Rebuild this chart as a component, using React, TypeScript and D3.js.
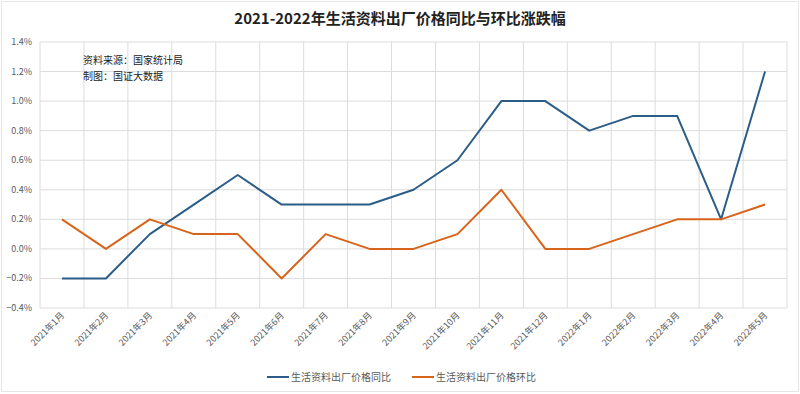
import React from "react";
import * as d3 from "d3";

const categories = [
  "2021年1月", "2021年2月", "2021年3月", "2021年4月", "2021年5月", "2021年6月",
  "2021年7月", "2021年8月", "2021年9月", "2021年10月", "2021年11月", "2021年12月",
  "2022年1月", "2022年2月", "2022年3月", "2022年4月", "2022年5月",
];
const yoyValues = [-0.2, -0.2, 0.1, 0.3, 0.5, 0.3, 0.3, 0.3, 0.4, 0.6, 1.0, 1.0, 0.8, 0.9, 0.9, 0.2, 1.2];
const momValues = [0.2, 0.0, 0.2, 0.1, 0.1, -0.2, 0.1, 0.0, 0.0, 0.1, 0.4, 0.0, 0.0, 0.1, 0.2, 0.2, 0.3];
const yTicks = [-0.4, -0.2, 0, 0.2, 0.4, 0.6, 0.8, 1.0, 1.2, 1.4];
const seriesNames = ["生活资料出厂价格同比", "生活资料出厂价格环比"];
const title = "2021-2022年生活资料出厂价格同比与环比涨跌幅";
const notes = ["资料来源：国家统计局", "制图：国证大数据"];

const W = 800, H = 394;
const left = 40, right = 787, top = 42, bottom = 308;
const BLUE = "#2c5d88";
const ORANGE = "#d8641c";
const FONT = "'Noto Sans CJK SC', 'Noto Sans', sans-serif";

export default function App() {
  const x = d3.scaleBand<string>().domain(categories).range([left, right]).padding(0);
  const y = d3.scaleLinear().domain([-0.4, 1.4]).range([bottom, top]);
  const cx = (c: string) => (x(c) as number) + x.bandwidth() / 2;
  const line = d3.line<number>()
    .x((_, i) => cx(categories[i]))
    .y((d) => y(d));
  const boundaries = d3.range(categories.length + 1).map((i) => left + i * x.bandwidth());

  return (
    <div style={{ position: "absolute", left: 0, top: 0 }}>
      <svg width={W} height={H} style={{ display: "block", fontFamily: FONT }}>
        <rect x={0} y={0} width={W} height={H} fill="#ffffff" />
        <rect x={1.5} y={1.5} width={W - 3} height={H - 4} fill="none" stroke="#e6e6e6" />
        <text x={W / 2} y={24} textAnchor="middle" fontSize={15} fontWeight="bold" fill="#222">
          {title}
        </text>
        {yTicks.map((t) => (
          <g key={t}>
            <line x1={left} x2={right} y1={y(t)} y2={y(t)} stroke="#dcdcdc" strokeWidth={1} />
            <text x={left - 8} y={y(t) + 3} textAnchor="end" fontSize={9} fill="#595959">
              {d3.format(".1f")(t) + "%"}
            </text>
          </g>
        ))}
        {boundaries.map((bx, i) => (
          <line key={i} x1={bx} x2={bx} y1={top} y2={bottom} stroke="#dcdcdc" strokeWidth={1} />
        ))}
        {categories.map((c) => (
          <text
            key={c}
            transform={`translate(${cx(c) + 3},${bottom + 8}) rotate(-45)`}
            textAnchor="end"
            fontSize={9}
            fill="#595959"
          >
            {c}
          </text>
        ))}
        <text x={83} y={64} fontSize={10} fill="#222">{notes[0]}</text>
        <text x={83} y={80} fontSize={10} fill="#222">{notes[1]}</text>
        <path d={line(yoyValues) || ""} fill="none" stroke={BLUE} strokeWidth={2} strokeLinejoin="round" />
        <path d={line(momValues) || ""} fill="none" stroke={ORANGE} strokeWidth={2} strokeLinejoin="round" />
        <g>
          <line x1={267} x2={289} y1={377} y2={377} stroke={BLUE} strokeWidth={2} />
          <text x={291} y={381} fontSize={10} fill="#595959">{seriesNames[0]}</text>
          <line x1={412} x2={434} y1={377} y2={377} stroke={ORANGE} strokeWidth={2} />
          <text x={436} y={381} fontSize={10} fill="#595959">{seriesNames[1]}</text>
        </g>
      </svg>
    </div>
  );
}
